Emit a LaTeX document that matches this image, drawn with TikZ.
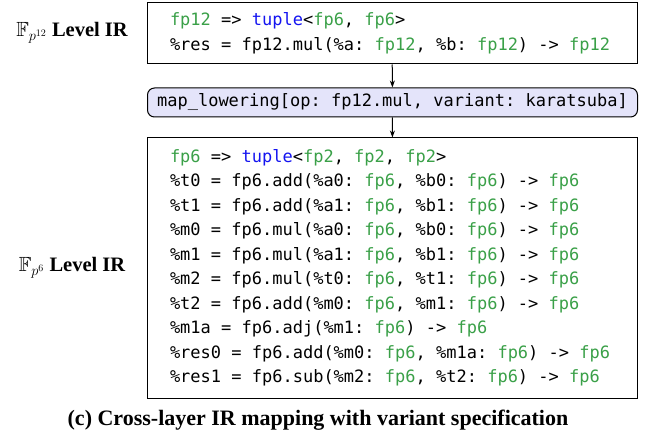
\documentclass[tikz,border=0pt]{standalone}
\usepackage{amsmath,amssymb}
\usepackage{fontspec}
\setmainfont{Liberation Serif}
\setmonofont{DejaVu Sans Mono}[WordSpace={1,0,0}]
\usetikzlibrary{arrows.meta, positioning}

\definecolor{tygreen}{RGB}{58,160,72}
\definecolor{kwblue}{RGB}{20,20,240}
\definecolor{maplav}{RGB}{228,228,250}
\newcommand{\ty}[1]{\textcolor{tygreen}{#1}}
\newcommand{\kw}[1]{\textcolor{kwblue}{#1}}

\begin{document}
\begin{tikzpicture}[x=1pt, y=1pt,
	irbox/.style={draw, line width=1pt, text width=444pt, inner xsep=23pt, inner ysep=6pt, align=left,
		font=\fontsize{17}{24.5}\selectfont\ttfamily,
		execute at begin node={\spaceskip=0pt\xspaceskip=0pt\frenchspacing}},
	mapbox/.style={draw, line width=1pt, rounded corners=7pt, fill=maplav, minimum width=490pt,
		minimum height=29pt, inner xsep=4pt, font=\fontsize{17}{20}\selectfont\ttfamily},
	lvl/.style={font=\fontsize{20.5}{22}\selectfont\bfseries},
	flow/.style={-{Stealth[length=7pt, width=5pt]}, line width=1pt}]
	\useasboundingbox (0,0) rectangle (653,-438);

	% top level
	\node[irbox, minimum height=61pt] (ir12) at (392,-33.5) {%
		\ty{fp12} => \kw{tuple}<\ty{fp6}, \ty{fp6}>\\
		\%res = fp12.mul(\%a: \ty{fp12}, \%b: \ty{fp12}) -> \ty{fp12}};
	\node[lvl] (lbl12) at (72,-33) {$\mathbb{F}_{p^{12}}$ Level IR};

	% lowering step
	\node[mapbox] (map) at (392.5,-102.5) {map\_lowering[op: fp12.mul, variant: karatsuba]};

	% lower level
	\node[irbox, minimum height=260pt] (ir6) at (392,-268) {%
		\ty{fp6} => \kw{tuple}<\ty{fp2}, \ty{fp2}, \ty{fp2}>\\
		\%t0 = fp6.add(\%a0: \ty{fp6}, \%b0: \ty{fp6}) -> \ty{fp6}\\
		\%t1 = fp6.add(\%a1: \ty{fp6}, \%b1: \ty{fp6}) -> \ty{fp6}\\
		\%m0 = fp6.mul(\%a0: \ty{fp6}, \%b0: \ty{fp6}) -> \ty{fp6}\\
		\%m1 = fp6.mul(\%a1: \ty{fp6}, \%b1: \ty{fp6}) -> \ty{fp6}\\
		\%m2 = fp6.mul(\%t0: \ty{fp6}, \%t1: \ty{fp6}) -> \ty{fp6}\\
		\%t2 = fp6.add(\%m0: \ty{fp6}, \%m1: \ty{fp6}) -> \ty{fp6}\\
		\%m1a = fp6.adj(\%m1: \ty{fp6}) -> \ty{fp6}\\
		\%res0 = fp6.add(\%m0: \ty{fp6}, \%m1a: \ty{fp6}) -> \ty{fp6}\\
		\%res1 = fp6.sub(\%m2: \ty{fp6}, \%t2: \ty{fp6}) -> \ty{fp6}};
	\node[lvl] (lbl6) at (72,-268) {$\mathbb{F}_{p^{6}}$ Level IR};

	\draw[flow] (ir12) -- (map);
	\draw[flow] (map) -- (ir6);

	\node[font=\fontsize{22}{24}\selectfont\bfseries] (cap) at (318,-420)
		{(c) Cross-layer IR mapping with variant specification};
\end{tikzpicture}
\end{document}
